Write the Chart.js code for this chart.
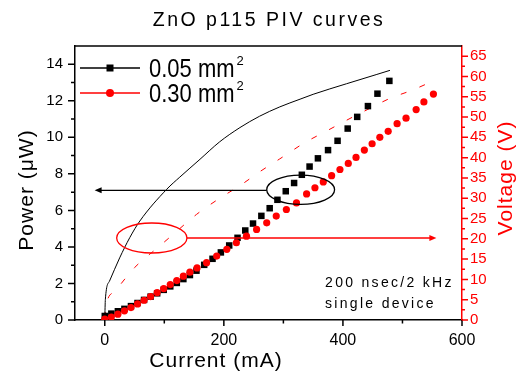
<!DOCTYPE html>
<html>
<head>
<meta charset="utf-8">
<script src="https://cdn.jsdelivr.net/npm/chart.js@4"></script>
<style>
  html, body { margin: 0; padding: 0; background: #fff; }
  #wrap { width: 519px; height: 375px; }
</style>
</head>
<body>
<div id="wrap"><canvas id="piv"></canvas></div>
<script>
// power vs current, 0.05 mm2 device (black squares)
const current005 = [0, 11, 22, 33, 44, 55, 66, 77, 88, 99, 110, 121, 132, 143, 154, 167, 181, 195, 209, 223, 236, 249, 263, 277, 290, 304, 318, 331, 344, 358, 375, 391, 408, 424, 442, 458, 478];
const power005 = [0.22, 0.35, 0.48, 0.61, 0.76, 0.93, 1.1, 1.28, 1.46, 1.65, 1.84, 2.03, 2.24, 2.46, 2.7, 3.02, 3.35, 3.7, 4.08, 4.5, 4.9, 5.28, 5.7, 6.12, 6.58, 7.05, 7.5, 7.95, 8.4, 8.85, 9.3, 9.81, 10.48, 11.12, 11.71, 12.39, 13.09];

// power vs current, 0.30 mm2 device (red dots)
const current030 = [0, 11, 22, 33, 44, 55, 66, 77, 88, 99, 110, 121, 132, 143, 155, 171, 188, 205, 221, 238, 255, 272, 288, 305, 322, 339, 353, 367, 381, 395, 409, 422, 436, 449, 462, 476, 491, 506, 523, 536, 552];
const power030 = [0.05, 0.16, 0.32, 0.5, 0.68, 0.88, 1.08, 1.28, 1.5, 1.72, 1.94, 2.16, 2.4, 2.62, 2.85, 3.14, 3.5, 3.87, 4.23, 4.59, 4.96, 5.32, 5.69, 6.05, 6.41, 6.9, 7.24, 7.56, 7.9, 8.24, 8.57, 8.9, 9.3, 9.65, 10.0, 10.33, 10.75, 11.05, 11.52, 11.94, 12.37];

// voltage vs current (right axis)
const vCurrent005 = [0, 1, 8, 25, 42, 59, 104, 126, 160, 193, 227, 260, 294, 328, 350, 406, 457, 479];
const voltage005 = [0.2, 5.1, 9.6, 15.3, 20.3, 24.4, 32.2, 35.2, 39.6, 43.9, 47.4, 50.2, 52.5, 54.4, 55.6, 58.2, 60.5, 61.5];
const vCurrent030 = [0, 2, 17, 50, 92, 118, 154, 190, 230, 260, 294, 336, 373, 406, 442, 479, 516, 549];
const voltage030 = [0.5, 3.5, 7.1, 12.9, 18.2, 21.5, 26.0, 29.7, 33.4, 36.5, 39.7, 43.7, 46.6, 49.2, 51.9, 54.6, 56.6, 58.7];

const xTicksMinor = [100, 300, 500];
const powerTicksMinor = [1, 3, 5, 7, 9, 11, 13];
const voltTicksMinor = [2.5, 7.5, 12.5, 17.5, 22.5, 27.5, 32.5, 37.5, 42.5, 47.5, 52.5, 57.5, 62.5];

const FONT = '"Liberation Sans", Arial, sans-serif';
const RED = '#ff0000';

function toPts(xs, ys) {
  return xs.map((x, i) => ({ x: x, y: ys[i] }));
}

function spaced(ctx, px) {
  if ('letterSpacing' in ctx) ctx.letterSpacing = px + 'px';
}

function marks(ctx, scale, values, len, color, side) {
  ctx.save();
  ctx.strokeStyle = color;
  ctx.lineWidth = 1.5;
  ctx.beginPath();
  values.forEach(v => {
    const p = scale.getPixelForValue(v);
    if (side === 'left') { ctx.moveTo(scale.right, p); ctx.lineTo(scale.right - len, p); }
    else if (side === 'right') { ctx.moveTo(scale.left, p); ctx.lineTo(scale.left + len, p); }
    else { ctx.moveTo(p, scale.top); ctx.lineTo(p, scale.top + len); }
  });
  ctx.stroke();
  ctx.restore();
}

function ellipse(ctx, xs, ys, cx, cy, rx, ry, color) {
  const px = xs.getPixelForValue(cx), py = ys.getPixelForValue(cy);
  const w = Math.abs(xs.getPixelForValue(cx + rx) - px);
  const h = Math.abs(ys.getPixelForValue(cy + ry) - py);
  ctx.save();
  ctx.strokeStyle = color;
  ctx.lineWidth = 1.3;
  ctx.beginPath();
  ctx.ellipse(px, py, w, h, 0, 0, Math.PI * 2);
  ctx.stroke();
  ctx.restore();
}

function arrow(ctx, xs, ys, x0, x1, y, color) {
  const a = xs.getPixelForValue(x0), b = xs.getPixelForValue(x1), py = ys.getPixelForValue(y);
  const dir = b > a ? 1 : -1;
  ctx.save();
  ctx.strokeStyle = color;
  ctx.fillStyle = color;
  ctx.lineWidth = 1.3;
  ctx.beginPath();
  ctx.moveTo(a, py);
  ctx.lineTo(b - dir * 5, py);
  ctx.stroke();
  ctx.beginPath();
  ctx.moveTo(b, py);
  ctx.lineTo(b - dir * 7, py - 3);
  ctx.lineTo(b - dir * 7, py + 3);
  ctx.closePath();
  ctx.fill();
  ctx.restore();
}

function legendRow(ctx, y, color, square, text) {
  ctx.save();
  ctx.strokeStyle = color;
  ctx.fillStyle = color;
  ctx.lineWidth = 1.3;
  ctx.beginPath();
  ctx.moveTo(80, y);
  ctx.lineTo(140, y);
  ctx.stroke();
  ctx.beginPath();
  if (square) ctx.rect(106.5, y - 3.5, 7, 7);
  else ctx.arc(110, y, 4, 0, Math.PI * 2);
  ctx.fill();
  ctx.fillStyle = '#000';
  ctx.font = '22px ' + FONT;
  ctx.textBaseline = 'alphabetic';
  ctx.textAlign = 'left';
  const w = ctx.measureText(text).width;
  ctx.save();
  ctx.translate(149, y + 8.5);
  ctx.scale(1, 1.15);
  ctx.fillText(text, 0, 0);
  ctx.restore();
  ctx.font = '13px ' + FONT;
  ctx.fillText('2', 149 + w + 2, y - 3);
  ctx.restore();
}

const decor = {
  id: 'decor',
  afterDatasetsDraw(chart) {
    const ctx = chart.ctx;
    const xs = chart.scales.x, yP = chart.scales.y, yV = chart.scales.y1;
    // black ellipse on power data, arrow to the power axis
    ellipse(ctx, xs, yP, 329, 7.13, 57, 0.8, '#000');
    arrow(ctx, xs, yP, 272, -17, 7.1, '#000');
    // red ellipse on voltage curve, arrow to the voltage axis
    ellipse(ctx, xs, yV, 79, 20.2, 59, 3.7, RED);
    arrow(ctx, xs, yV, 138, 557, 20.2, RED);

    ctx.save();
    ctx.fillStyle = '#000';
    ctx.font = '14px ' + FONT;
    spaced(ctx, 2.3);
    ctx.textAlign = 'left';
    ctx.textBaseline = 'alphabetic';
    ctx.fillText('200 nsec/2 kHz', xs.getPixelForValue(370), yP.getPixelForValue(1.8));
    ctx.fillText('single device', xs.getPixelForValue(370), yP.getPixelForValue(0.66));
    ctx.restore();
  },
  afterDraw(chart) {
    const ctx = chart.ctx;
    const a = chart.chartArea;
    const xs = chart.scales.x, yP = chart.scales.y, yV = chart.scales.y1;

    // top frame line
    ctx.save();
    ctx.strokeStyle = '#000';
    ctx.lineWidth = 1.5;
    ctx.beginPath();
    ctx.moveTo(a.left, a.top);
    ctx.lineTo(a.right, a.top);
    ctx.stroke();
    ctx.restore();

    marks(ctx, xs, xs.ticks.map(t => t.value), 6, '#000', 'bottom');
    marks(ctx, xs, xTicksMinor, 3.5, '#000', 'bottom');
    marks(ctx, yP, yP.ticks.map(t => t.value), 7, '#000', 'left');
    marks(ctx, yP, powerTicksMinor, 4, '#000', 'left');
    marks(ctx, yV, yV.ticks.map(t => t.value), 6, RED, 'right');
    marks(ctx, yV, voltTicksMinor, 3, RED, 'right');

    ctx.save();
    ctx.fillStyle = '#000';
    ctx.font = '19.5px ' + FONT;
    spaced(ctx, 2.5);
    ctx.textAlign = 'center';
    ctx.textBaseline = 'alphabetic';
    ctx.fillText('ZnO p115 PIV curves', 269, 26);

    ctx.font = '21px ' + FONT;
    spaced(ctx, 1);
    ctx.fillText('Current (mA)', 216, 367);

    ctx.textBaseline = 'middle';
    ctx.save();
    ctx.translate(27, 190);
    ctx.rotate(-Math.PI / 2);
    ctx.fillText('Power (\u03bcW)', 0, 0);
    ctx.restore();

    ctx.fillStyle = RED;
    ctx.save();
    ctx.translate(506, 178);
    ctx.rotate(-Math.PI / 2);
    ctx.fillText('Voltage (V)', 0, 0);
    ctx.restore();
    ctx.restore();

    legendRow(ctx, 68, '#000', true, '0.05 mm');
    legendRow(ctx, 93, RED, false, '0.30 mm');
  }
};

new Chart(document.getElementById('piv'), {
  type: 'scatter',
  data: {
    datasets: [
      {
        label: '0.30 mm2 power',
        data: toPts(current030, power030),
        yAxisID: 'y',
        pointStyle: 'circle',
        pointRadius: 3.6,
        pointBackgroundColor: RED,
        pointBorderColor: RED,
        pointBorderWidth: 0
      },
      {
        label: '0.05 mm2 power',
        data: toPts(current005, power005),
        yAxisID: 'y',
        pointStyle: 'rect',
        pointRadius: 4.6,
        pointBackgroundColor: '#000',
        pointBorderColor: '#000',
        pointBorderWidth: 0
      },
      {
        label: '0.05 mm2 voltage',
        data: toPts(vCurrent005, voltage005),
        yAxisID: 'y1',
        showLine: true,
        pointRadius: 0,
        borderColor: '#000',
        borderWidth: 1,
        cubicInterpolationMode: 'monotone'
      },
      {
        label: '0.30 mm2 voltage',
        data: toPts(vCurrent030, voltage030),
        yAxisID: 'y1',
        showLine: true,
        pointRadius: 0,
        borderColor: RED,
        borderWidth: 1,
        borderDash: [6, 14],
        cubicInterpolationMode: 'monotone'
      }
    ]
  },
  options: {
    responsive: true,
    maintainAspectRatio: false,
    animation: false,
    events: [],
    layout: { padding: { top: 46, left: 0, right: 0, bottom: 0 } },
    plugins: {
      legend: { display: false },
      title: { display: false },
      tooltip: { enabled: false }
    },
    scales: {
      x: {
        type: 'linear',
        position: 'bottom',
        min: -50,
        max: 600,
        afterFit: s => { s.height = 55; },
        grid: { display: false, drawTicks: true, tickLength: 6 },
        border: { color: '#000', width: 1.5 },
        ticks: { stepSize: 200, includeBounds: false, color: '#000', padding: 5, maxRotation: 0, font: { family: FONT, size: 16 } }
      },
      y: {
        type: 'linear',
        position: 'left',
        min: 0,
        max: 15,
        afterFit: s => { s.width = 75; },
        grid: { display: false, drawTicks: true, tickLength: 7 },
        border: { color: '#000', width: 1.5 },
        ticks: { stepSize: 2, includeBounds: false, color: '#000', padding: 5, font: { family: FONT, size: 15 } }
      },
      y1: {
        type: 'linear',
        position: 'right',
        min: 0,
        max: 67.5,
        afterFit: s => { s.width = 57; },
        grid: { display: false, drawTicks: true, tickLength: 6 },
        border: { color: RED, width: 1.5 },
        ticks: { stepSize: 5, includeBounds: false, autoSkip: false, color: RED, padding: 2, font: { family: FONT, size: 15 } }
      }
    }
  },
  plugins: [decor]
});
</script>
</body>
</html>
